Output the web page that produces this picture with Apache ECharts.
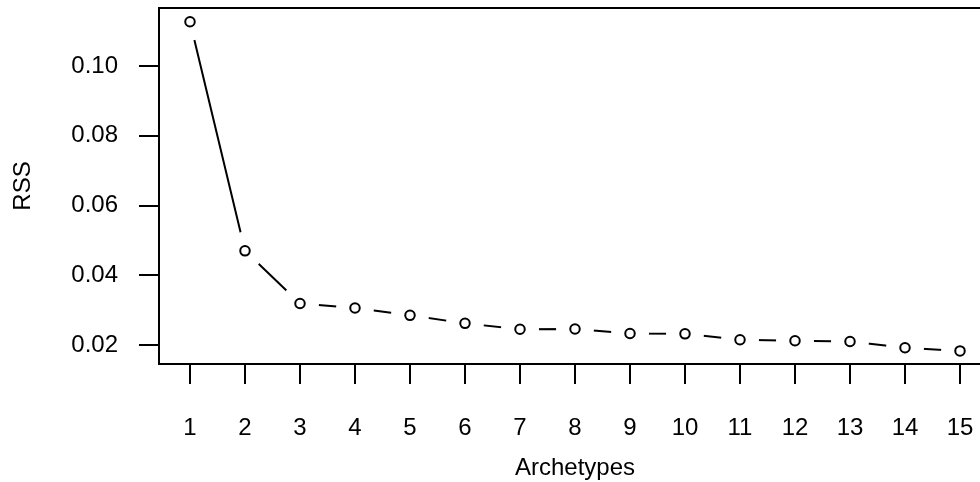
<!DOCTYPE html>
<html>
<head>
<meta charset="utf-8">
<script src="https://cdn.jsdelivr.net/npm/echarts@6/dist/echarts.min.js"></script>
<style>
html,body{margin:0;padding:0;background:#fff;}
#chart{width:980px;height:482px;}
</style>
</head>
<body>
<div id="chart"></div>
<script>
var archetypes = [1,2,3,4,5,6,7,8,9,10,11,12,13,14,15];
var rss = [0.1127,0.0470,0.0319,0.0306,0.0285,0.0262,0.0245,0.0246,0.0233,0.0232,0.0215,0.0212,0.0210,0.0192,0.0183];
var yTicks = [0.02,0.04,0.06,0.08,0.10];
var xTicks = archetypes;

var pts = archetypes.map(function(a,i){return [a, rss[i]];});
var FONT = 'Liberation Sans, Arial, Helvetica, sans-serif';
var FS = 24;
var LW = 2;

var chart = echarts.init(document.getElementById('chart'), null, {renderer:'canvas'});
chart.setOption({
  animation:false,
  backgroundColor:'#ffffff',
  grid:{left:159, top:8, right:-11, bottom:118, show:true, borderColor:'#000', borderWidth:LW, backgroundColor:'transparent', z:10, containLabel:false, outerBoundsMode:'none'},
  xAxis:{
    type:'value', min:0.4364, max:15.5636, z:10,
    name:'Archetypes', nameLocation:'middle', nameGap:104,
    nameTextStyle:{fontFamily:FONT, fontSize:FS, color:'#000', verticalAlign:'middle'},
    axisLine:{show:true, onZero:false, lineStyle:{color:'#000', width:LW}},
    axisTick:{show:true, inside:false, length:20, customValues:xTicks, lineStyle:{color:'#000', width:LW}},
    axisLabel:{show:true, customValues:xTicks, margin:52, fontFamily:FONT, fontSize:FS, color:'#000', formatter:function(v){return String(v);}},
    splitLine:{show:false}
  },
  yAxis:{
    type:'value', min:0.01455, max:0.11663, z:10,
    name:'RSS', nameLocation:'middle', nameGap:136, nameRotate:90,
    nameTextStyle:{fontFamily:FONT, fontSize:FS, color:'#000', verticalAlign:'middle'},
    axisLine:{show:true, onZero:false, lineStyle:{color:'#000', width:LW}},
    axisTick:{show:true, inside:false, length:20, customValues:yTicks, lineStyle:{color:'#000', width:LW}},
    axisLabel:{show:true, customValues:yTicks, margin:41, fontFamily:FONT, fontSize:FS, color:'#000', formatter:function(v){return v.toFixed(2);}},
    splitLine:{show:false}
  },
  series:[
    {type:'line', data:pts, showSymbol:false, symbol:'none', z:2, clip:false,
     lineStyle:{color:'#000', width:LW}},
    {type:'scatter', data:pts, symbol:'circle', symbolSize:38, z:3, clip:false,
     itemStyle:{color:'#ffffff', borderWidth:0, opacity:1}},
    {type:'scatter', data:pts, symbol:'circle', symbolSize:9.5, z:4, clip:false,
     itemStyle:{color:'#ffffff', borderColor:'#000', borderWidth:LW, opacity:1}}
  ]
});
</script>
</body>
</html>
